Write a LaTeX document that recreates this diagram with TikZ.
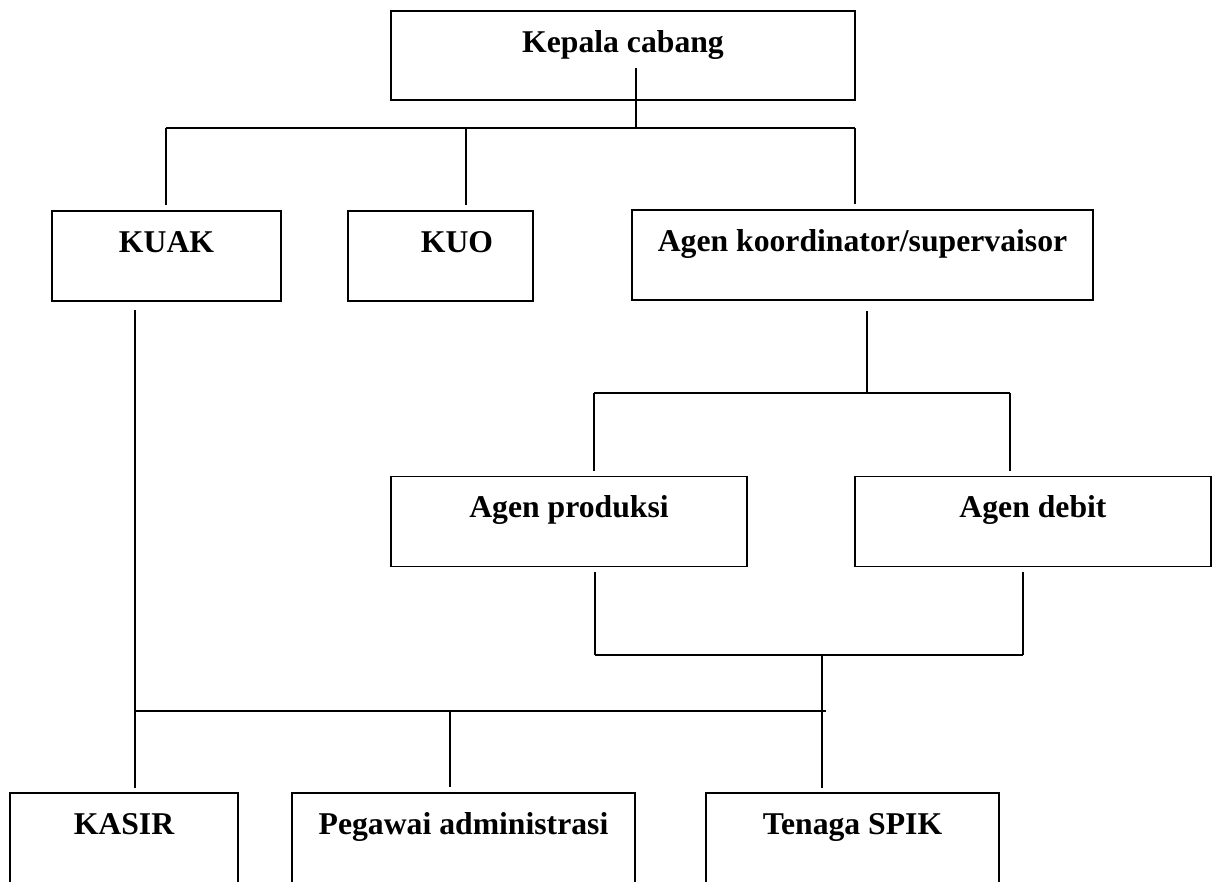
\documentclass[tikz,border=0pt]{standalone}
\usepackage{fontspec}
\setmainfont{Liberation Serif}
\usepackage{tikz}
\usetikzlibrary{positioning,calc}

\begin{document}
\begin{tikzpicture}[x=1pt, y=-1pt,
    unit/.style={draw, rectangle, line width=1.6pt, inner sep=0pt, text height=41pt, text depth=49pt, font=\fontsize{31.7}{38}\selectfont\bfseries},
    link/.style={line width=1.2pt}]
    \useasboundingbox (0,0) rectangle (1218,881);
    \clip (0,0) rectangle (1218,881);
    % boxes
    \node[unit, minimum width=464pt, text depth=48pt] (kc) at (623,55.5) {Kepala cabang};
    \node[unit, minimum width=229pt] (kuak) at (166.5,256) {KUAK};
    \node[unit, minimum width=185pt] (kuo) at (440.5,256) {\hspace*{33pt}KUO};
    \node[unit, minimum width=461pt] (agk) at (862.5,255) {Agen koordinator/supervaisor};
    \node[unit, minimum width=356pt] (agp) at (569,521.5) {Agen produksi};
    \node[unit, minimum width=356pt] (agd) at (1033,521.5) {Agen debit};
    \node[unit, minimum width=228pt, text depth=60pt] (kasir) at (124,843.5) {KASIR};
    \node[unit, minimum width=343pt, text depth=60pt] (peg) at (463.5,843.5) {Pegawai administrasi};
    \node[unit, minimum width=293pt, text depth=60pt] (spik) at (852.5,843.5) {Tenaga SPIK};
    % junctions
    \coordinate (kcfoot) at (636,68);
    \coordinate (b1a) at (166,128);
    \coordinate (b1b) at (466,128);
    \coordinate (b1c) at (855,128);
    \coordinate (agkfoot) at (867,311);
    \coordinate (b2a) at (594,393);
    \coordinate (b2b) at (1010,393);
    \coordinate (agpfoot) at (595,572);
    \coordinate (agdfoot) at (1023,572);
    \coordinate (b4a) at (595,655);
    \coordinate (b4b) at (1023,655);
    \coordinate (b4c) at (822,655);
    \coordinate (kuakfoot) at (135,310);
    \coordinate (b3a) at (135,711);
    \coordinate (b3b) at (450,711);
    \coordinate (b3c) at (826,711);
    % kepala cabang
    \draw[link] (kcfoot) -- (kcfoot |- b1a);
    \draw[link] (b1a) -- (b1c);
    \foreach \b/\n in {b1a/kuak, b1b/kuo, b1c/agk}
        \draw[link, shorten >=5pt] (\b) -- (\b |- \n.north);
    % agen
    \draw[link] (agkfoot) -- (agkfoot |- b2a);
    \draw[link] (b2a) -- (b2b);
    \foreach \b/\n in {b2a/agp, b2b/agd}
        \draw[link, shorten >=5pt] (\b) -- (\b |- \n.north);
    \draw[link] (agpfoot) -- (b4a);
    \draw[link] (agdfoot) -- (b4b);
    \draw[link] (b4a) -- (b4b);
    \draw[link, shorten >=4pt] (b4c) -- (b4c |- spik.north);
    % kuak
    \draw[link, shorten >=4pt] (kuakfoot) -- (kuakfoot |- kasir.north);
    \draw[link] (b3a) -- (b3c);
    \draw[link, shorten >=5pt] (b3b) -- (b3b |- peg.north);
\end{tikzpicture}
\end{document}
